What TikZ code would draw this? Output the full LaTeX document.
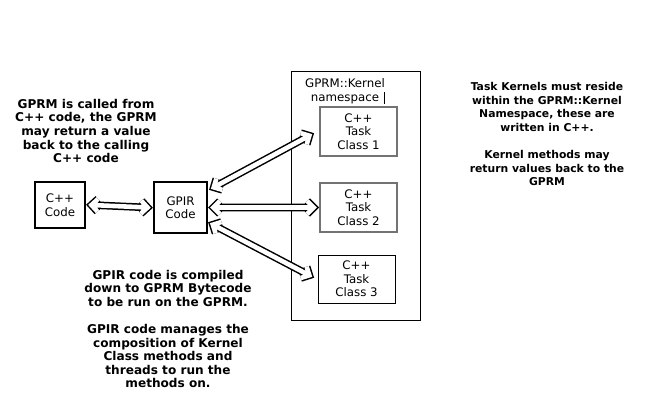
\documentclass[tikz,border=0pt]{standalone}
\usepackage{fontspec}
\setmainfont{DejaVu Sans}
\usetikzlibrary{calc}
\newcommand\dblarrow[2]{%
  \draw[dbl] ($(#1)!9pt!45:(#2)$) -- (#1) -- ($(#1)!9pt!-45:(#2)$)
    (#1) -- (#2)
    ($(#2)!9pt!45:(#1)$) -- (#2) -- ($(#2)!9pt!-45:(#1)$);}
\begin{document}
\begin{tikzpicture}[x=1pt,y=-1pt,
  every node/.style={font=\fontsize{11.8}{13.6}\selectfont, inner sep=0pt},
  note/.style={align=center, font=\fontsize{12.1}{13.6}\selectfont\bfseries},
  blackbox/.style={draw=black, line width=1.3pt, align=center},
  taskbox/.style={draw=black!55, line width=1.1pt, align=center},
  taskboxb/.style={draw=black, line width=0.9pt, align=center},
  dbl/.style={draw=black, line width=1.5pt, double=white, double distance=4.6pt, line join=miter, line cap=butt}
]
\useasboundingbox (0,0) rectangle (648,413);
% outer namespace box
\node[draw=black, line width=1.1pt, minimum width=129, minimum height=249, anchor=north west] (ns) at (291,71) {};
\node[align=center] (nslabel) at (345,91.5) {GPRM::Kernel\\namespace};
\draw[line width=0.7pt] (384.5,92) -- (384.5,104);
% boxes
\node[blackbox, minimum width=50, minimum height=46] (cpp) at (60,205) {C++\\Code};
\node[blackbox, minimum width=53, minimum height=51] (gpir) at (180.5,207.5) {GPIR\\Code};
\node[taskbox, minimum width=77, minimum height=49] (t1) at (358.5,131.5) {C++\\Task\\Class 1};
\node[taskbox, minimum width=77, minimum height=49] (t2) at (358.5,207.5) {C++\\Task\\Class 2};
\node[taskboxb, minimum width=77, minimum height=48] (t3) at (356.5,279) {C++\\Task\\Class 3};
% arrow end points
\coordinate (c0) at ($(cpp.east)+(5.8,0)$);
\coordinate (g0) at ($(gpir.west)+(-5.8,0)$);
\coordinate (g2) at ($(gpir.east)+(5.8,0)$);
\coordinate (e2) at ($(t2.west)+(-5.8,0)$);
\coordinate (g1) at ($(gpir.east)+(6.1,-20.2)$);
\coordinate (e1) at ($(t1.west)+(-10.1,4.2)$);
\coordinate (g3) at ($(gpir.east)+(5.2,17.2)$);
\coordinate (e3) at ($(t3.west)+(-8.2,-3.7)$);
% arrows
\dblarrow{c0}{g0}
\dblarrow{g2}{e2}
\dblarrow{g1}{e1}
\dblarrow{g3}{e3}
% notes
\node[note] (n1) at (86,131) {GPRM is called from\\C++ code, the GPRM\\may return a value\\back to the calling\\C++ code};
\node[note, font=\fontsize{10.8}{13.6}\selectfont\bfseries] (n2) at (547,134) {Task Kernels must reside\\within the GPRM::Kernel\\Namespace, these are\\written in C++.\\[13.6pt]Kernel methods may\\return values back to the\\GPRM};
\node[note] (n3) at (168,329) {GPIR code is compiled\\down to GPRM Bytecode\\to be run on the GPRM.\\[13.6pt]GPIR code manages the\\composition of Kernel\\Class methods and\\threads to run the\\methods on.};
\end{tikzpicture}
\end{document}
